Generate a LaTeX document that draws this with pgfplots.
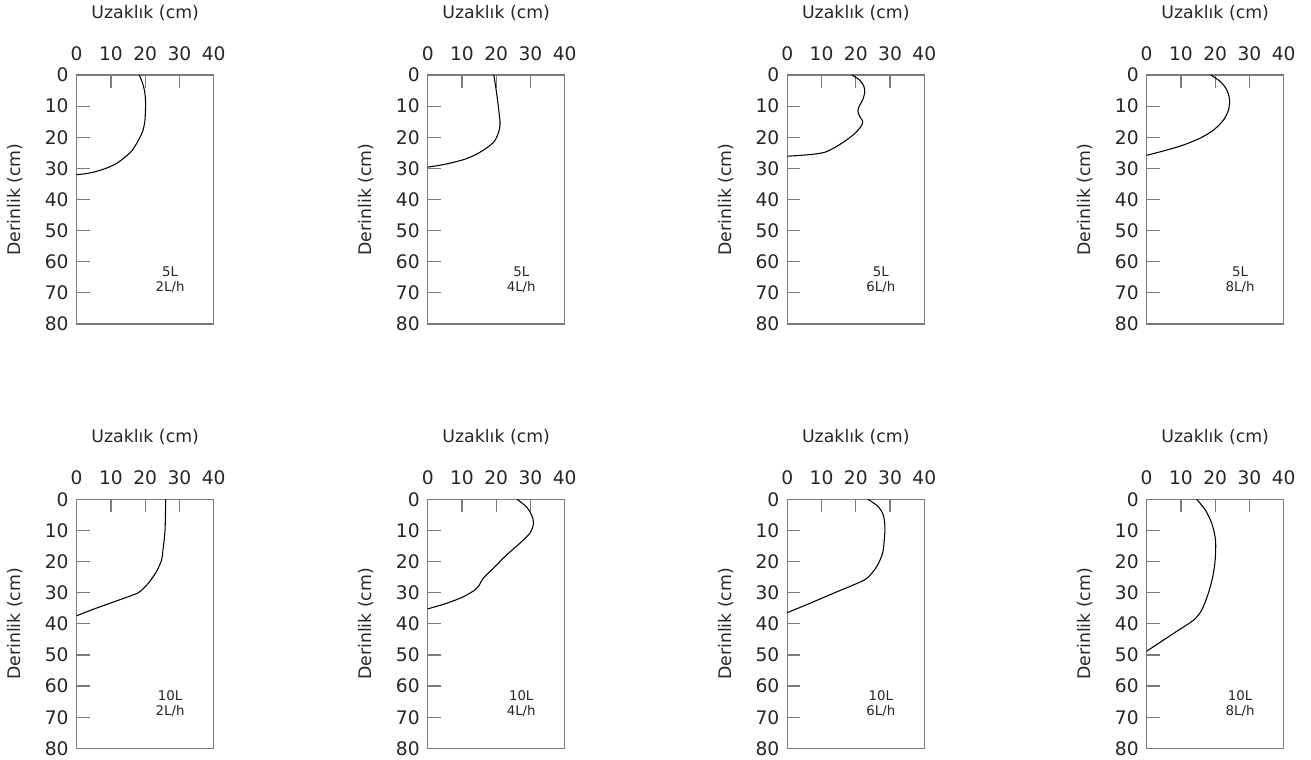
\documentclass[border=0pt]{standalone}
\usepackage{pgfplots}
\pgfplotsset{compat=1.18}
\usepackage{fontspec}
\setmainfont{DejaVu Sans}
\definecolor{frame}{HTML}{7A7A7A}
\definecolor{txt}{HTML}{262626}
\pgfplotsset{
  panel/.style={
    scale only axis, width=102.75pt, height=186.75pt,
    xmin=0, xmax=40, ymin=0, ymax=80, y dir=reverse,
    xtick={0,10,20,30,40}, ytick={0,10,...,80},
    xtick pos=right, ytick pos=left, xticklabel pos=right,
    tick align=inside, major tick length=9.75pt,
    axis line style={frame, line width=1pt},
    every tick/.style={frame, line width=0.9pt},
    tick label style={font=\fontsize{14}{16}\selectfont, text=txt},
    /pgf/number format/assume math mode=true,
    xticklabel shift=7.5pt, yticklabel shift=2.5pt,
    xlabel={Uzaklık (cm)}, ylabel={Derinlik (cm)},
    label style={font=\fontsize{13}{15}\selectfont, text=txt},
    xlabel style={at={(rel axis cs:0.5,1)}, anchor=center, yshift=46.5pt},
    ylabel style={at={(rel axis cs:0,0.5)}, anchor=center, yshift=46pt},
    clip=false,
  },
  curve/.style={black, line width=0.8pt, smooth, tension=0.5, no marks},
}
\newcommand\note[2]{\node[font=\fontsize{10}{11.5}\selectfont, text=txt, align=center] at (axis cs:27.3,65.7) {#1\\#2};}
\begin{document}
\begin{tikzpicture}
\path[use as bounding box] (0,0) rectangle (983.25pt,-570pt);
% top row
\begin{axis}[panel, anchor=north west, at={(57.5pt,-56.25pt)}]
\addplot[curve] coordinates {(18.3,0) (19.2,2.5) (19.8,5) (20.1,8) (20.1,11) (19.9,15) (19.3,18) (18.5,20) (17.5,22) (16.0,24.5) (14.0,26.5) (11.5,28.5) (8.5,30) (5,31.2) (2,31.8) (0,32)};
\note{5L}{2L/h}
\end{axis}
\begin{axis}[panel, anchor=north west, at={(320.8pt,-56.25pt)}]
\addplot[curve] coordinates {(19.3,0) (20,5) (20.6,10) (21.1,15) (21.0,17) (20.5,19) (19.4,21.4) (17.5,23.2) (14.5,25.3) (11,27) (7,28.2) (3.5,29) (0,29.6)};
\note{5L}{4L/h}
\end{axis}
\begin{axis}[panel, anchor=north west, at={(590.5pt,-56.25pt)}]
\addplot[curve] coordinates {(18.8,0) (21,1.5) (22.3,3.5) (22.6,5.5) (22,8) (21,10) (20.6,11.5) (21,13) (22,15) (21.5,16.5) (20,18.5) (18,20.3) (15.5,22.2) (13,23.8) (11,24.8) (8,25.4) (4,25.8) (0,26.1)};
\note{5L}{6L/h}
\end{axis}
\begin{axis}[panel, anchor=north west, at={(860pt,-56.25pt)}]
\addplot[curve] coordinates {(18.7,0) (21.5,2.1) (23.4,4.8) (24.2,8) (23.9,11.2) (22.4,14.5) (19.5,17.7) (15.6,20.3) (10.7,22.5) (5.9,24.1) (0,25.8)};
\note{5L}{8L/h}
\end{axis}
% bottom row
\begin{axis}[panel, anchor=north west, at={(57.5pt,-374.5pt)}]
\addplot[curve] coordinates {(26,0) (25.8,9.9) (25.2,16.3) (24.8,19.5) (23.3,23.2) (20.9,27) (18.4,29.7) (16.5,30.7) (9.7,33.4) (4.9,35.3) (0,37.4)};
\note{10L}{2L/h}
\end{axis}
\begin{axis}[panel, anchor=north west, at={(320.8pt,-374.5pt)}]
\addplot[curve] coordinates {(26.1,0) (28.8,2.4) (30.3,5) (30.9,7.7) (29.8,10.9) (26.9,14.1) (23,17.9) (19.1,22.2) (16.2,25.4) (14.8,28) (13.8,29.1) (10.4,31.3) (5.5,33.4) (0,35.2)};
\note{10L}{4L/h}
\end{axis}
\begin{axis}[panel, anchor=north west, at={(590.5pt,-374.5pt)}]
\addplot[curve] coordinates {(23.6,0) (26.6,2.4) (28,5) (28.5,8.8) (28.3,13.1) (27.8,17.3) (26.1,21.6) (23.2,25.4) (19.3,27.5) (13.4,30.2) (6.6,33.4) (0,36.4)};
\note{10L}{6L/h}
\end{axis}
\begin{axis}[panel, anchor=north west, at={(860pt,-374.5pt)}]
\addplot[curve] coordinates {(14.6,0) (17.1,3.4) (19,7.7) (20.1,13.1) (20,19.5) (19.3,24.8) (18,30.2) (16.1,35.5) (13.7,38.8) (7.8,43.1) (0,48.8)};
\note{10L}{8L/h}
\end{axis}
\end{tikzpicture}
\end{document}
